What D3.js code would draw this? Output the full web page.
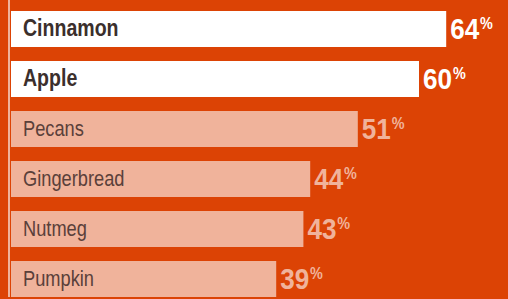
<!DOCTYPE html>
<html>
<head>
<meta charset="utf-8">
<script src="https://cdn.jsdelivr.net/npm/d3@7"></script>
<style>
  html, body { margin: 0; padding: 0; background: #dc4305; }
  svg { display: block; }
</style>
</head>
<body>
<div id="chart"></div>
<script>
// -----------------------------
// DATA
// -----------------------------
const CATEGORIES = ["Cinnamon", "Apple", "Pecans", "Gingerbread", "Nutmeg", "Pumpkin"];
const VALUES = [64, 60, 51, 44, 43, 39];
const HIGHLIGHT = ["Cinnamon", "Apple"];

// -----------------------------
// LAYOUT
// -----------------------------
const width = 508;
const height = 299;
const FONT = "'Liberation Sans', Arial, sans-serif";

const BG = "#dc4305";
const LIGHT = "#f0b39b";
const DARK_TEXT = "#3b2f2c";
const MUTED_TEXT = "#5a403a";

const svg = d3.select("#chart").append("svg")
  .attr("width", width)
  .attr("height", height);

svg.append("rect")
  .attr("width", width)
  .attr("height", height)
  .attr("fill", BG);

// 6.8 px per percentage point, bars start at x = 11
const x = d3.scaleLinear().domain([0, 100]).range([11, 691]);

// 36px bars on a 50px pitch
const y = d3.scaleBand()
  .domain(CATEGORIES)
  .range([11, 297])
  .paddingInner(14 / 50)
  .paddingOuter(0);

const data = CATEGORIES.map((c, i) => ({ name: c, value: VALUES[i], hi: HIGHLIGHT.includes(c) }));

// left baseline rule
svg.append("rect")
  .attr("x", 8)
  .attr("y", 0)
  .attr("width", 2)
  .attr("height", y(CATEGORIES[CATEGORIES.length - 1]) + y.bandwidth())
  .attr("fill", LIGHT);

const rows = svg.selectAll("g.row")
  .data(data)
  .join("g")
  .attr("class", "row")
  .attr("transform", d => `translate(0,${y(d.name)})`);

rows.append("rect")
  .attr("x", x(0))
  .attr("width", d => x(d.value) - x(0))
  .attr("height", y.bandwidth())
  .attr("fill", d => d.hi ? "#ffffff" : LIGHT);

// category labels inside bars (condensed look via horizontal squeeze)
rows.append("text")
  .attr("transform", d => `translate(${x(0) + 12},25) scale(${d.hi ? 0.85 : 0.83},1)`)
  .attr("font-family", FONT)
  .attr("font-size", d => d.hi ? 23 : 22)
  .attr("font-weight", d => d.hi ? 700 : 400)
  .attr("fill", d => d.hi ? DARK_TEXT : MUTED_TEXT)
  .text(d => d.name);

// value labels with superscript %
const val = rows.append("text")
  .attr("transform", d => `translate(${x(d.value) + 4},27.5) scale(0.9,1)`)
  .attr("font-family", FONT)
  .attr("font-weight", 700)
  .attr("fill", d => d.hi ? "#ffffff" : LIGHT);

val.append("tspan")
  .attr("font-size", 29)
  .text(d => d.value);

val.append("tspan")
  .attr("font-size", 16)
  .attr("dy", -10)
  .attr("dx", 1)
  .text("%");
</script>
</body>
</html>
